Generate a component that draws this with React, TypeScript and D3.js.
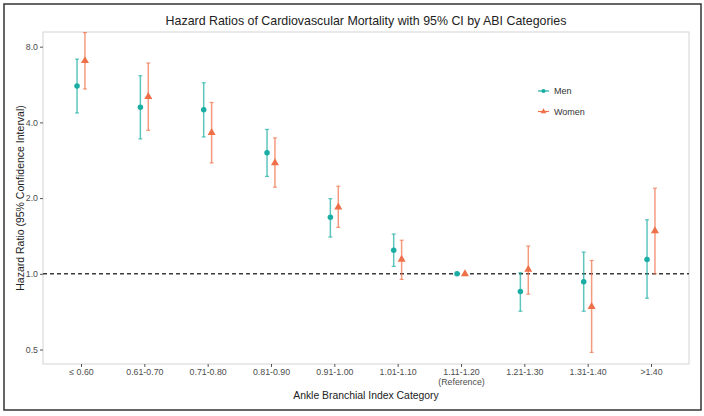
import * as d3 from "d3";
import {useRef, useEffect} from "react";

const categories = ["≤ 0.60", "0.61-0.70", "0.71-0.80", "0.81-0.90", "0.91-1.00",
    "1.01-1.10", "1.11-1.20", "1.21-1.30", "1.31-1.40", ">1.40"];

const menHR = [5.58, 4.59, 4.49, 3.03, 1.68, 1.24, 1.0, 0.85, 0.93, 1.14];
const menLower = [4.36, 3.44, 3.5, 2.44, 1.40, 1.07, 1.0, 0.71, 0.71, 0.80];
const menUpper = [7.14, 6.13, 5.75, 3.75, 1.99, 1.44, 1.0, 1.01, 1.22, 1.64];

const womenHR = [7.03, 5.06, 3.64, 2.76, 1.84, 1.14, 1.0, 1.04, 0.74, 1.48];
const womenLower = [5.43, 3.72, 2.76, 2.21, 1.53, 0.95, 1.0, 0.83, 0.487, 1.0];
const womenUpper = [9.1, 6.89, 4.8, 3.47, 2.23, 1.36, 1.0, 1.29, 1.13, 2.19];

const yTicks = [0.5, 1, 2, 4, 8];

const MEN = "#1aada3";
const WOMEN = "#ef7048";

export default function App() {
    const svgRef = useRef(null);
    const width = 704, height = 416;
    const margin = {top: 32, right: 15, bottom: 52, left: 43};

    useEffect(() => {
        const svg = d3.select(svgRef.current);
        svg.selectAll("*").remove();
        const font = "Liberation Sans, Arial, sans-serif";

        const iw = width - margin.left - margin.right;
        const ih = height - margin.top - margin.bottom;

        // outer frame
        svg.append("rect")
            .attr("x", 4).attr("y", 4)
            .attr("width", 697).attr("height", 406)
            .attr("fill", "white")
            .attr("stroke", "#333").attr("stroke-width", 1.5);

        const g = svg.append("g").attr("transform", `translate(${margin.left},${margin.top})`);

        // discrete x with ggplot-style 0.6 expansion
        const x = d3.scaleLinear().domain([-0.6, categories.length - 1 + 0.6]).range([0, iw]);
        const y = d3.scaleLog().base(2).domain([0.438, 9.15]).range([ih, 0]);

        g.append("defs").append("clipPath").attr("id", "panel")
            .append("rect").attr("width", iw).attr("height", ih);

        g.append("rect")
            .attr("width", iw).attr("height", ih)
            .attr("fill", "white").attr("stroke", "#d4d4d4").attr("stroke-width", 1);

        // reference line
        g.append("line")
            .attr("x1", 0).attr("x2", iw)
            .attr("y1", y(1)).attr("y2", y(1))
            .attr("stroke", "#3a3a3a").attr("stroke-width", 1.4)
            .attr("stroke-dasharray", "4,3");

        const xAxis = g.append("g")
            .attr("transform", `translate(0,${ih})`)
            .call(d3.axisBottom(x).tickValues(d3.range(categories.length))
                .tickFormat(i => categories[i as number]).tickSize(3).tickPadding(2).tickSizeOuter(0));
        xAxis.select(".domain").remove();
        xAxis.selectAll(".tick line").attr("stroke", "#555");
        xAxis.selectAll(".tick text")
            .attr("font-family", font).attr("font-size", 8.8).attr("fill", "#4d4d4d");
        xAxis.selectAll(".tick").filter((d: any) => d === 6).append("text")
            .attr("y", 15).attr("dy", "0.71em").attr("text-anchor", "middle")
            .attr("font-family", font).attr("font-size", 8.8).attr("fill", "#4d4d4d")
            .text("(Reference)");

        const yAxis = g.append("g")
            .call(d3.axisLeft(y).tickValues(yTicks).tickFormat(d3.format(".1f")).tickSize(3).tickPadding(2).tickSizeOuter(0));
        yAxis.select(".domain").remove();
        yAxis.selectAll(".tick line").attr("stroke", "#555");
        yAxis.selectAll(".tick text")
            .attr("font-family", font).attr("font-size", 8.8).attr("fill", "#4d4d4d");

        const series = [
            {name: "Men", hr: menHR, lo: menLower, hi: menUpper, color: MEN, shape: d3.symbolCircle, off: -0.0625},
            {name: "Women", hr: womenHR, lo: womenLower, hi: womenUpper, color: WOMEN, shape: d3.symbolTriangle, off: 0.0625},
        ];

        const plot = g.append("g").attr("clip-path", "url(#panel)");
        const cap = 2;
        series.forEach(s => {
            const sg = plot.append("g");
            categories.forEach((_, i) => {
                const cx = x(i + s.off);
                if (s.lo[i] !== s.hi[i]) {
                    sg.append("line")
                        .attr("x1", cx).attr("x2", cx)
                        .attr("y1", y(s.lo[i])).attr("y2", y(s.hi[i]))
                        .attr("stroke", s.color).attr("stroke-opacity", 0.7).attr("stroke-width", 1.5);
                    [s.lo[i], s.hi[i]].forEach(v => {
                        sg.append("line")
                            .attr("x1", cx - cap).attr("x2", cx + cap)
                            .attr("y1", y(v)).attr("y2", y(v))
                            .attr("stroke", s.color).attr("stroke-opacity", 0.7).attr("stroke-width", 1.2);
                    });
                }
                sg.append("path")
                    .attr("transform", `translate(${cx},${y(s.hr[i])})`)
                    .attr("d", d3.symbol(s.shape, s.shape === d3.symbolCircle ? 24 : 28)())
                    .attr("fill", s.color);
            });
        });

        // legend
        const lg = g.append("g").attr("transform", `translate(${538 - margin.left},${91 - margin.top})`);
        series.forEach((s, k) => {
            const row = lg.append("g").attr("transform", `translate(0,${k * 20.5})`);
            row.append("line").attr("x1", 0).attr("x2", 11).attr("stroke", s.color).attr("stroke-width", 1.2);
            row.append("path").attr("transform", "translate(5.5,0)")
                .attr("d", d3.symbol(s.shape, 14)()).attr("fill", s.color);
            row.append("text").attr("x", 16).attr("dy", "0.35em")
                .attr("font-family", font).attr("font-size", 9).attr("fill", "#333")
                .text(s.name);
        });

        svg.append("text")
            .attr("x", margin.left + iw / 2).attr("y", 25)
            .attr("text-anchor", "middle")
            .attr("font-family", font).attr("font-size", 12.4).attr("fill", "#222")
            .text("Hazard Ratios of Cardiovascular Mortality with 95% CI by ABI Categories");

        svg.append("text")
            .attr("x", margin.left + iw / 2).attr("y", 399)
            .attr("text-anchor", "middle")
            .attr("font-family", font).attr("font-size", 10.4).attr("fill", "#222")
            .text("Ankle Branchial Index Category");

        svg.append("text")
            .attr("transform", `translate(23.5,${margin.top + ih / 2}) rotate(-90)`)
            .attr("text-anchor", "middle")
            .attr("font-family", font).attr("font-size", 10.5).attr("fill", "#222")
            .text("Hazard Ratio (95% Confidence Interval)");
    }, []);

    return (
        <svg ref={svgRef} width={width} height={height}
             style={{position: "absolute", left: 0, top: 0}} />
    );
}
